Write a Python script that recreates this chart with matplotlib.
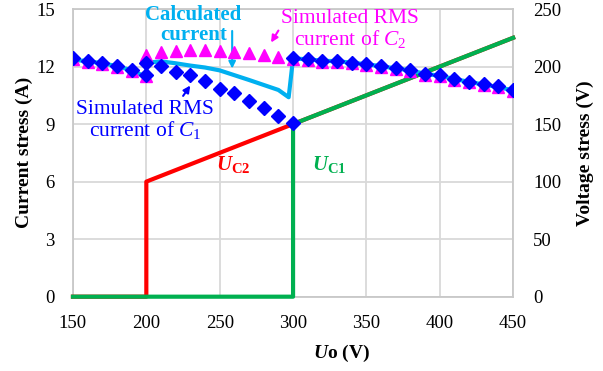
import matplotlib
matplotlib.use("Agg")
import matplotlib.pyplot as plt

plt.rcParams["font.family"] = ["Liberation Serif", "DejaVu Serif"]
plt.rcParams["mathtext.fontset"] = "custom"
plt.rcParams["mathtext.rm"] = "Liberation Serif"
plt.rcParams["mathtext.it"] = "Liberation Serif:italic"
plt.rcParams["mathtext.bf"] = "Liberation Serif:bold"
plt.rcParams["mathtext.bfit"] = "Liberation Serif:bold:italic"

# output voltage sweep (V)
uo_calc = [150, 160, 170, 180, 190, 200, 200, 210, 220, 230, 240, 250, 260, 270,
           280, 290, 297, 300, 310, 320, 330, 340, 350, 360, 370, 380, 390, 400,
           410, 420, 430, 440, 450]
i_calc = [12.35, 12.28, 12.17, 12.02, 11.8, 11.45, 12.2, 12.27, 12.17, 12.05,
          11.95, 11.8, 11.55, 11.3, 11.04, 10.78, 10.4, 12.42, 12.38, 12.3,
          12.28, 12.2, 12.12, 12.02, 11.9, 11.8, 11.62, 11.52, 11.35, 11.2,
          11.06, 10.93, 10.75]

# simulated RMS current of C1 (A)
uo_c1 = [150, 160, 170, 180, 190, 200, 200, 210, 220, 230, 240, 250, 260, 270,
         280, 290, 300, 300, 310, 320, 330, 340, 350, 360, 370, 380, 390, 400,
         410, 420, 430, 440, 450]
i_c1 = [12.42, 12.3, 12.2, 12.05, 11.83, 11.57, 12.2, 12.03, 11.74, 11.57,
        11.25, 10.85, 10.6, 10.2, 9.83, 9.4, 9.05, 12.44, 12.4, 12.3, 12.3,
        12.21, 12.14, 12.03, 11.91, 11.83, 11.62, 11.57, 11.36, 11.22, 11.08,
        10.96, 10.78]

# simulated RMS current of C2 (A)
uo_c2 = [150, 160, 170, 180, 190, 200, 200, 210, 220, 230, 240, 250, 260, 270,
         280, 290, 300, 310, 320, 330, 340, 350, 360, 370, 380, 390, 400, 410,
         420, 430, 440, 450]
i_c2 = [12.37, 12.25, 12.15, 12.0, 11.78, 11.5, 12.6, 12.75, 12.82, 12.86, 12.85,
        12.82, 12.77, 12.7, 12.6, 12.48, 12.4, 12.35, 12.25, 12.25, 12.16,
        12.09, 11.98, 11.86, 11.78, 11.57, 11.52, 11.31, 11.17, 11.03, 10.91,
        10.73]

# capacitor voltage stress (V)
uo_v = [150, 200, 200, 300, 300, 450]
v_c2 = [0, 0, 100, 150, 150, 225]
v_c1 = [0, 0, 0, 0, 150, 225]

RED = "#FF0000"
GREEN = "#00B050"
CYAN = "#00B0F0"
BLUE = "#0000FF"
MAGENTA = "#FF00FF"

fig = plt.figure(figsize=(6.03, 3.71), dpi=100)
ax = fig.add_axes([0.121, 0.2003, 0.730, 0.7754])
ax2 = ax.twinx()

ax.set_xlim(150, 450)
ax.set_ylim(0, 15)
ax2.set_ylim(0, 250)
ax.set_xticks(range(150, 451, 50))
ax.set_yticks(range(0, 16, 3))
ax2.set_yticks(range(0, 251, 50))

# right axes sits underneath and carries the frame, grid and voltage lines
ax2.set_zorder(ax.get_zorder() - 1)
ax.patch.set_visible(False)
ax2.xaxis.set_visible(True)
ax2.tick_params(axis="x", labelbottom=False, labeltop=False, length=0)
ax2.grid(True, color="#D9D9D9", lw=1.3)
ax2.set_axisbelow(True)

for s in ax.spines.values():
    s.set_visible(False)
for s in ax2.spines.values():
    s.set_color("#C8C8C8")
    s.set_linewidth(1.3)
for a in (ax, ax2):
    a.tick_params(length=0, labelsize=13.5)
ax.tick_params(axis="x", pad=13)
ax.tick_params(axis="y", pad=13)
ax2.tick_params(axis="y", pad=14.5)

ax2.plot(uo_v, v_c2, color=RED, lw=3, zorder=3, clip_on=False)
ax2.plot(uo_v, v_c1, color=GREEN, lw=3, zorder=4, clip_on=False)

# currents on the left axis
ax.plot(uo_calc, i_calc, color=CYAN, lw=3, zorder=3)
ax.plot(uo_c2, i_c2, ls="none", marker="^", ms=8.5, color=MAGENTA, zorder=4)
ax.plot(uo_c1, i_c1, ls="none", marker="D", ms=7, color=BLUE, zorder=5)

ax.set_xlabel(r"$\boldsymbol{U}$o (V)", fontsize=14, fontweight="bold")
ax.xaxis.set_label_coords(0.61, -0.16)
ax.set_ylabel("Current stress (A)", fontsize=14, fontweight="bold", labelpad=2)
ax2.set_ylabel("Voltage stress (V)", fontsize=14, fontweight="bold", labelpad=11)

ax.text(232, 14.17, "Calculated\ncurrent", color=CYAN, fontsize=15,
        fontweight="bold", ha="center", va="center", linespacing=1.0)
ax.annotate("", xy=(258.5, 11.75), xytext=(258.5, 14.0),
            arrowprops=dict(arrowstyle="-|>", color=CYAN, lw=1.5,
                            mutation_scale=10))

ax.text(339, 13.95, "Simulated RMS\ncurrent of $C_2$", color=MAGENTA, fontsize=15.5,
        ha="center", va="center", linespacing=1.0)
ax.annotate("", xy=(284, 13.13), xytext=(291, 14.0),
            arrowprops=dict(arrowstyle="-|>", color=MAGENTA, lw=1.5,
                            mutation_scale=10))

ax.text(199, 9.2, "Simulated RMS\ncurrent of $C_1$", color=BLUE, fontsize=15.5,
        ha="center", va="center", linespacing=1.0)
ax.annotate("", xy=(231, 11.13), xytext=(224, 10.35),
            arrowprops=dict(arrowstyle="-|>", color=BLUE, lw=1.5,
                            mutation_scale=10))

ax.text(259, 6.87, r"$\boldsymbol{U}_{\mathbf{C2}}$", color=RED, fontsize=15,
        ha="center", va="center")
ax.text(324.5, 6.9, r"$\boldsymbol{U}_{\mathbf{C1}}$", color=GREEN, fontsize=15,
        ha="center", va="center")

fig.savefig("out.png", dpi=100)
